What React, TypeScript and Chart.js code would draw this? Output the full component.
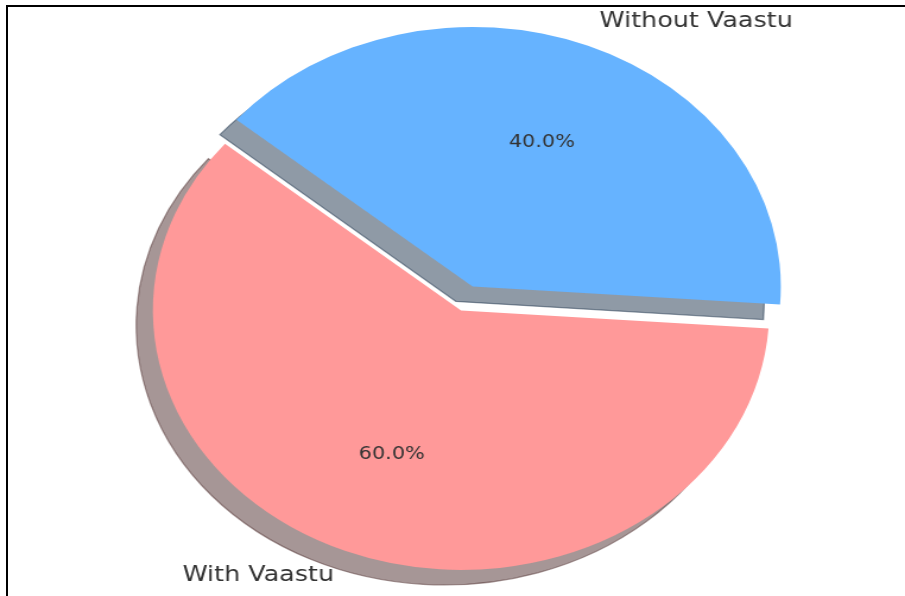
import { useEffect, useRef } from 'react';
import { Chart, registerables } from 'chart.js';

Chart.register(...registerables);

// Pie data
const LABELS = ['With Vaastu', 'Without Vaastu'];
const VALUES = [60, 40];
const COLORS = ['#ff9999', '#66b3ff'];
const SHADOW_RGB = [
  [77, 46, 46],
  [31, 54, 77],
];
const EXPLODE = [0, 0.1];
const START_ANGLE = 140; // degrees, counter-clockwise from 3 o'clock

// Drawing surface (stretched horizontally to fill the frame)
const PLOT_W = 762;
const PLOT_H = 596;
const STRETCH_X = 905 / PLOT_W;
const RADIUS = 259.5;
const SHADOW_DX = -14;
const SHADOW_DY = 15;
const LABEL_DIST = 1.1;
const PCT_DIST = 0.6;
const LABEL_SIZE = 21.4;
const PCT_SIZE = 17.5;
const TEXT_COLOR = '#333333';
const FONT = '"DejaVu Sans", Verdana, sans-serif';

const TOTAL = VALUES.reduce((a, b) => a + b, 0);
// Chart.js measures clockwise from 12 o'clock; slices run counter-clockwise from START_ANGLE
const ROTATION = 90 - START_ANGLE - (VALUES[0] / TOTAL) * 360;

const pieExtras = {
  id: 'pieExtras',
  afterDatasetsUpdate(chart: any) {
    const meta = chart.getDatasetMeta(0);
    meta.data.forEach((arc: any, i: number) => {
      const mid = (arc.startAngle + arc.endAngle) / 2;
      const d = (EXPLODE[i] || 0) * arc.outerRadius;
      arc.x += Math.cos(mid) * d;
      arc.y += Math.sin(mid) * d;
    });
  },
  beforeDatasetsDraw(chart: any) {
    const ctx: CanvasRenderingContext2D = chart.ctx;
    const meta = chart.getDatasetMeta(0);
    ctx.save();
    ctx.translate(SHADOW_DX, SHADOW_DY);
    meta.data.forEach((arc: any, i: number) => {
      const [r, g, b] = SHADOW_RGB[i];
      const c = `rgba(${r},${g},${b},0.5)`;
      ctx.beginPath();
      ctx.moveTo(arc.x, arc.y);
      ctx.arc(arc.x, arc.y, arc.outerRadius, arc.startAngle, arc.endAngle);
      ctx.closePath();
      ctx.fillStyle = c;
      ctx.fill();
      ctx.strokeStyle = c;
      ctx.lineWidth = 1.2;
      ctx.lineJoin = 'miter';
      ctx.stroke();
    });
    ctx.restore();
  },
  afterDatasetsDraw(chart: any) {
    const ctx: CanvasRenderingContext2D = chart.ctx;
    const meta = chart.getDatasetMeta(0);
    ctx.save();
    ctx.fillStyle = TEXT_COLOR;
    ctx.textBaseline = 'middle';
    meta.data.forEach((arc: any, i: number) => {
      const mid = (arc.startAngle + arc.endAngle) / 2;
      const cx = Math.cos(mid);
      const cy = Math.sin(mid);
      const r = arc.outerRadius;
      ctx.font = `${LABEL_SIZE}px ${FONT}`;
      ctx.textAlign = cx >= 0 ? 'left' : 'right';
      ctx.fillText(LABELS[i], arc.x + cx * r * LABEL_DIST, arc.y + cy * r * LABEL_DIST);
      ctx.font = `${PCT_SIZE}px ${FONT}`;
      ctx.textAlign = 'center';
      const pct = ((VALUES[i] / TOTAL) * 100).toFixed(1) + '%';
      ctx.fillText(pct, arc.x + cx * r * PCT_DIST, arc.y + cy * r * PCT_DIST);
    });
    ctx.restore();
  },
};

export default function App() {
  const canvasRef = useRef<HTMLCanvasElement>(null);

  useEffect(() => {
    const canvas = canvasRef.current;
    if (!canvas) return;
    const chart = new Chart(canvas, {
      type: 'pie',
      data: {
        labels: LABELS,
        datasets: [
          {
            data: VALUES,
            backgroundColor: COLORS,
            borderWidth: 0,
            hoverOffset: 0,
          },
        ],
      },
      options: {
        animation: false,
        responsive: true,
        maintainAspectRatio: false,
        events: [],
        radius: RADIUS,
        rotation: ROTATION,
        layout: { padding: { left: 14.4, right: 0, top: 25, bottom: 0 } },
        plugins: {
          legend: { display: false },
          tooltip: { enabled: false },
        },
      } as any,
      plugins: [pieExtras],
    });
    return () => chart.destroy();
  }, []);

  return (
    <div
      style={{
        position: 'fixed',
        left: 0,
        top: 0,
        width: 905,
        height: 596,
        background: '#ffffff',
        overflow: 'hidden',
      }}
    >
      <div
        style={{
          position: 'absolute',
          left: 0,
          top: 0,
          width: PLOT_W,
          height: PLOT_H,
          transform: `scaleX(${STRETCH_X})`,
          transformOrigin: '0 0',
        }}
      >
        <canvas ref={canvasRef} />
      </div>
      <div
        style={{
          position: 'absolute',
          left: 6,
          top: 5,
          right: 0,
          bottom: 0,
          borderTop: '2px solid #000',
          borderLeft: '2px solid #000',
          pointerEvents: 'none',
        }}
      />
    </div>
  );
}
